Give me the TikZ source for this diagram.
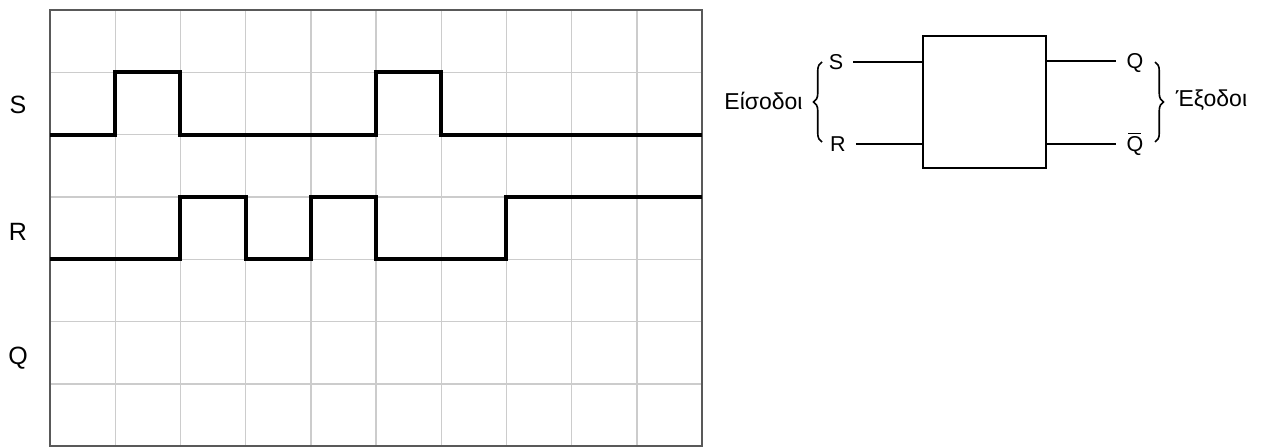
\documentclass[tikz,border=0pt]{standalone}
\usepackage{fontspec}
\setmainfont{Liberation Sans}
\usetikzlibrary{positioning, decorations.pathreplacing}

\begin{document}
\begin{tikzpicture}[
        x=1pt, y=-1pt,
        gridline/.style={draw=black!20, line width=1.4pt},
        frame/.style={draw=black!65, line width=1.6pt},
        signal/.style={draw=black, line width=4pt},
        wire/.style={draw=black, line width=1.8pt},
        sig/.style={font=\fontsize{25}{29}\selectfont, inner sep=0pt},
        pin/.style={font=\fontsize{21.5}{25}\selectfont, text height=15.4pt, text depth=0pt, inner xsep=10pt, inner ysep=0pt},
        group/.style={font=\fontsize{23}{27}\selectfont, inner sep=0pt},
        curly/.style={decorate, decoration={brace, amplitude=8.5pt}, line width=1.6pt}
    ]
        \useasboundingbox (0,0) rectangle (1263,447);

        % Χρονοδιάγραμμα S, R, Q
        \begin{scope}[shift={(50,10)}, x=65.2pt, y=-62.3pt]
            \foreach \i in {1,...,9} \draw[gridline] (\i,0) -- (\i,7);
            \foreach \j in {1,...,6} \draw[gridline] (0,\j) -- (10,\j);
            \draw[frame] (0,0) rectangle (10,7);
            \draw[signal] (0,2) -- (1,2) -- (1,1) -- (2,1) -- (2,2) -- (5,2) -- (5,1) -- (6,1) -- (6,2) -- (10,2);
            \draw[signal] (0,4) -- (2,4) -- (2,3) -- (3,3) -- (3,4) -- (4,4) -- (4,3) -- (5,3) -- (5,4) -- (7,4) -- (7,3) -- (10,3);
        \end{scope}
        \node[sig] (lblS) at (18,105) {S};
        \node[sig] (lblR) at (18,232) {R};
        \node[sig] (lblQ) at (18,358) {Q};

        % Μπλοκ με εισόδους και εξόδους
        \node[draw, line width=1.8pt, minimum width=123pt, minimum height=132pt] (ff) at (984.5,101.7) {};
        \node[pin] (inS) at (836,62) {S};
        \node[pin] (inR) at (838,144) {R};
        \node[pin] (outQ) at (1135,61) {Q};
        \node[pin] (outQb) at (1135,144) {\rlap{\hspace{1.8pt}\raisebox{17.6pt}{\rule{13pt}{1.4pt}}}Q};
        \draw[wire] (inS.east) -- (inS.east -| ff.west);
        \draw[wire] (inR.east) -- (inR.east -| ff.west);
        \draw[wire] (ff.east |- outQ.west) -- (outQ.west);
        \draw[wire] (ff.east |- outQb.west) -- (outQb.west);

        % Άγκιστρα
        \coordinate (inTop) at (822,62);
        \coordinate (inBot) at (822,142);
        \coordinate (outTop) at (1155,62);
        \coordinate (outBot) at (1155,142);
        \draw[curly] (inBot) -- (inTop);
        \draw[curly] (outTop) -- (outBot);
        \node[group] (inputs) at (763.5,101) {Είσοδοι};
        \node[group] (outputs) at (1211.5,100) {Έξοδοι};
    \end{tikzpicture}
\end{document}
